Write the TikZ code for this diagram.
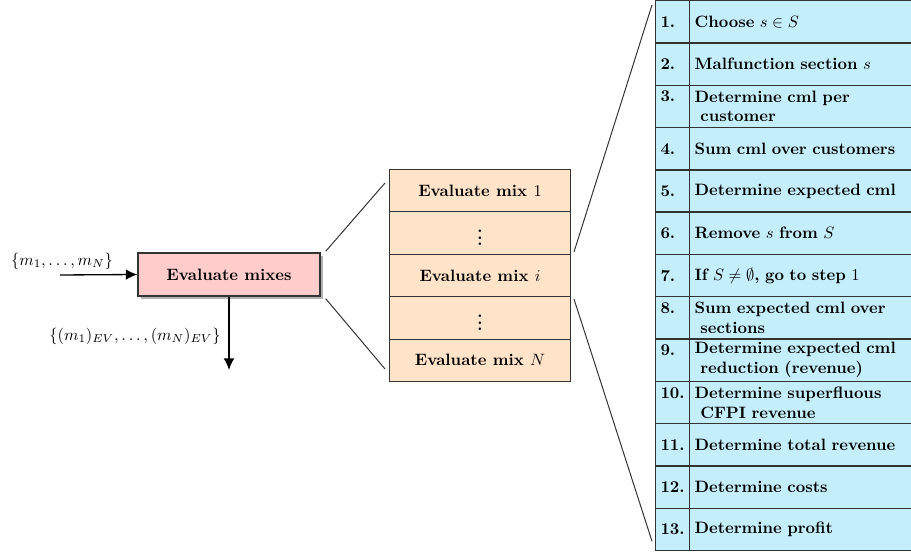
\documentclass[tikz,border=0pt]{standalone}
\usepackage{amsmath,amssymb}
\usepackage{tikz}
\usepackage{xcolor}
\usetikzlibrary{shadows,arrows.meta}

\definecolor{mixpink}{RGB}{255,204,204}
\definecolor{mixorange}{RGB}{255,228,201}
\definecolor{stepblue}{RGB}{197,238,251}
\definecolor{framegray}{RGB}{51,51,51}

\begin{document}
\begin{tikzpicture}[x=0.607pt, y=-0.607pt,
    mixesbox/.style={draw=framegray, thick, fill=mixpink, font=\bfseries,
      minimum width=110.5pt, minimum height=26.1pt,
      drop shadow={shadow xshift=2pt, shadow yshift=-2pt, fill=black!30, opacity=1}},
    mixcell/.style={draw=framegray, semithick, fill=mixorange, font=\bfseries,
      minimum width=109.9pt, minimum height=25.74pt, anchor=north west},
    numcell/.style={draw=framegray, thick, fill=stepblue, font=\bfseries,
      text width=14.7pt, inner xsep=2.95pt, inner ysep=1pt, align=left,
      minimum height=25.68pt, anchor=north west},
    stepcell/.style={draw=framegray, thick, fill=stepblue, font=\bfseries,
      text width=131.2pt, inner xsep=3pt, inner ysep=1pt, align=left,
      minimum height=25.68pt, anchor=north west},
    zoomline/.style={semithick, framegray},
    flow/.style={-{Latex[length=7pt,width=6.5pt]}, thick}]

    \useasboundingbox (0,0) rectangle (911,555);

    % Evaluate mixes
    \node[mixesbox] (mixes) at (229,274.5) {Evaluate mixes};

    % Input and output
    \coordinate (in) at (60,275);
    \coordinate (out) at (229,370);
    \draw[flow] (in) -- (mixes.west);
    \draw[flow] (mixes.south) -- (out);
    \node (inlabel) at (62,261) {$\{m_1,\dots,m_N\}$};
    \node (outlabel) at (135,336) {$\{(m_1)_{EV},\dots,(m_N)_{EV}\}$};

    % Mixes stack
    \node[mixcell] (mix1) at (389,169) {Evaluate mix $1$};
    \node[mixcell] (dots1) at (389,211.4) {$\vdots$};
    \node[mixcell] (mixi) at (389,253.8) {Evaluate mix $i$};
    \node[mixcell] (dots2) at (389,296.2) {$\vdots$};
    \node[mixcell] (mixN) at (389,338.6) {Evaluate mix $N$};

    % Steps
    \node[numcell] (n1) at (655,0) {1.};
    \node[stepcell] (s1) at (689,0) {Choose $s\in S$};
    \node[numcell] (n2) at (655,42.3) {2.};
    \node[stepcell] (s2) at (689,42.3) {Malfunction section $s$};
    \node[numcell] (n3) at (655,84.6) {3.\\\mbox{}};
    \node[stepcell] (s3) at (689,84.6) {Determine cml per\\\hspace*{0.35em}customer};
    \node[numcell] (n4) at (655,126.9) {4.};
    \node[stepcell] (s4) at (689,126.9) {Sum cml over customers};
    \node[numcell] (n5) at (655,169.2) {5.};
    \node[stepcell] (s5) at (689,169.2) {Determine expected cml};
    \node[numcell] (n6) at (655,211.5) {6.};
    \node[stepcell] (s6) at (689,211.5) {Remove $s$ from $S$};
    \node[numcell] (n7) at (655,253.8) {7.};
    \node[stepcell] (s7) at (689,253.8) {If $S\neq\emptyset$, go to step $1$};
    \node[numcell] (n8) at (655,296.1) {8.\\\mbox{}};
    \node[stepcell] (s8) at (689,296.1) {Sum expected cml over\\\hspace*{0.35em}sections};
    \node[numcell] (n9) at (655,338.4) {9.\\\mbox{}};
    \node[stepcell] (s9) at (689,338.4) {Determine expected cml\\\hspace*{0.35em}reduction (revenue)};
    \node[numcell] (n10) at (655,380.7) {10.\\\mbox{}};
    \node[stepcell] (s10) at (689,380.7) {Determine superfluous\\\hspace*{0.35em}CFPI revenue};
    \node[numcell] (n11) at (655,423) {11.};
    \node[stepcell] (s11) at (689,423) {Determine total revenue};
    \node[numcell] (n12) at (655,465.3) {12.};
    \node[stepcell] (s12) at (689,465.3) {Determine costs};
    \node[numcell] (n13) at (655,507.6) {13.};
    \node[stepcell] (s13) at (689,507.6) {Determine profit};

    % Zoom lines
    \draw[zoomline] ([shift={(5,-1)}]mixes.north east) -- ([shift={(-4,14)}]mix1.north west);
    \draw[zoomline] ([shift={(5,2)}]mixes.south east) -- ([shift={(-4,-13)}]mixN.south west);
    \draw[zoomline] ([shift={(3,-2)}]mixi.north east) -- ([shift={(-3,5)}]n1.north west);
    \draw[zoomline] ([shift={(3,2)}]mixi.south east) -- ([shift={(-3,-10)}]n13.south west);

\end{tikzpicture}
\end{document}
